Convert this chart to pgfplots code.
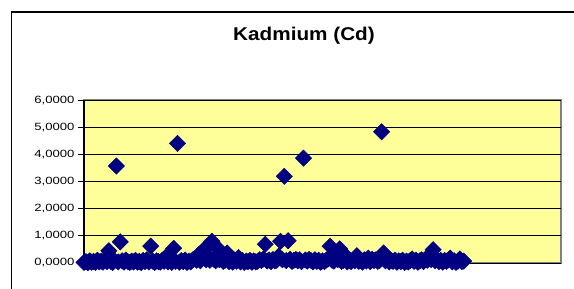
\documentclass[border=0pt]{standalone}
\usepackage{pgfplots}
\pgfplotsset{compat=1.18}
\usepackage{pgfplotstable}
\usepackage{fontspec}
\setmainfont{Liberation Sans}
\newfontfamily\tickfont[FakeStretch=1.25]{Liberation Sans}
\newfontfamily\titlefont[FakeStretch=1.12]{Liberation Sans Bold}
\definecolor{navy}{HTML}{000080}
\definecolor{excelyellow}{HTML}{FFFF99}
\definecolor{bordergray}{HTML}{808080}
\pgfplotstableread{
x y
0 0.02
1 0.05
2 0.01
3 0.08
4 0.03
5 0.06
6 0.02
7 0.10
8 0.04
9 0.07
10 0.03
11 0.12
12 0.05
13 0.45
14 0.06
15 0.02
16 0.09
17 3.57
18 0.04
19 0.78
20 0.08
21 0.03
22 0.11
23 0.05
24 0.02
25 0.07
26 0.04
27 0.10
28 0.03
29 0.06
30 0.01
31 0.09
32 0.05
33 0.12
34 0.04
35 0.62
36 0.07
37 0.02
38 0.08
39 0.05
40 0.03
41 0.10
42 0.06
43 0.23
44 0.04
45 0.08
46 0.02
47 0.54
48 0.06
49 4.40
50 0.03
51 0.09
52 0.05
53 0.11
54 0.02
55 0.07
56 0.04
57 0.12
58 0.15
59 0.10
60 0.30
61 0.08
62 0.18
63 0.50
64 0.12
65 0.25
66 0.10
67 0.80
68 0.14
69 0.08
70 0.55
71 0.12
72 0.35
73 0.06
74 0.10
75 0.37
76 0.05
77 0.08
78 0.03
79 0.11
80 0.06
81 0.20
82 0.04
83 0.09
84 0.02
85 0.07
86 0.05
87 0.10
88 0.03
89 0.08
90 0.04
91 0.06
92 0.12
93 0.09
94 0.15
95 0.69
96 0.07
97 0.11
98 0.05
99 0.13
100 0.08
101 0.10
102 0.25
103 0.80
104 0.12
105 3.19
106 0.09
107 0.82
108 0.14
109 0.06
110 0.10
111 0.13
112 0.08
113 0.12
114 0.05
115 3.86
116 0.11
117 0.07
118 0.13
119 0.09
120 0.04
121 0.12
122 0.06
123 0.10
124 0.03
125 0.08
126 0.05
127 0.11
128 0.15
129 0.62
130 0.10
131 0.07
132 0.25
133 0.12
134 0.52
135 0.06
136 0.10
137 0.28
138 0.04
139 0.09
140 0.05
141 0.11
142 0.08
143 0.27
144 0.06
145 0.10
146 0.03
147 0.12
148 0.07
149 0.18
150 0.05
151 0.14
152 0.09
153 0.12
154 0.06
155 0.10
156 4.83
157 0.37
158 0.08
159 0.12
160 0.04
161 0.09
162 0.06
163 0.11
164 0.03
165 0.08
166 0.05
167 0.10
168 0.02
169 0.07
170 0.04
171 0.09
172 0.15
173 0.06
174 0.11
175 0.03
176 0.08
177 0.12
178 0.05
179 0.14
180 0.10
181 0.20
182 0.12
183 0.49
184 0.08
185 0.13
186 0.05
187 0.10
188 0.03
189 0.09
190 0.06
191 0.11
192 0.18
193 0.04
194 0.08
195 0.02
196 0.07
197 0.15
198 0.05
199 0.07
}\cdtable
\begin{document}
\begin{tikzpicture}
\useasboundingbox (0,0) rectangle (574pt,289pt);
\fill[white] (0,0) rectangle (574pt,289pt);
\draw[line width=1.5pt, black] (11.5pt,-20pt) -- (11.5pt,277pt) -- (620pt,277pt);
\node[anchor=base, font=\titlefont\fontsize{18.5}{22}\selectfont] at (304pt,248pt) {Kadmium (Cd)};
\begin{axis}[
  at={(84pt,26pt)}, anchor=south west,
  scale only axis, width=477pt, height=163pt,
  xmin=0, xmax=250, ymin=0, ymax=6,
  clip=false,
  axis background/.style={fill=excelyellow, draw=bordergray, line width=2pt},
  axis x line=none,
  axis y line*=left,
  y axis line style={black, line width=1.2pt, -},
  ytick={0,1,2,3,4,5,6},
  yticklabels={{0,0000},{1,0000},{2,0000},{3,0000},{4,0000},{5,0000},{6,0000}},
  yticklabel style={font=\tickfont\fontsize{10.5}{12}\selectfont, black},
  tick align=outside,
  major tick length=6pt,
  tick style={black, line width=0.8pt},
  ymajorgrids,
  grid style={black, line width=0.8pt},
]
\addplot[only marks, color=navy, mark=square*, mark size=5.8pt,
  mark options={rotate=45, fill=navy, draw=navy}] table[x=x, y=y] {\cdtable};
\end{axis}
\end{tikzpicture}
\end{document}
